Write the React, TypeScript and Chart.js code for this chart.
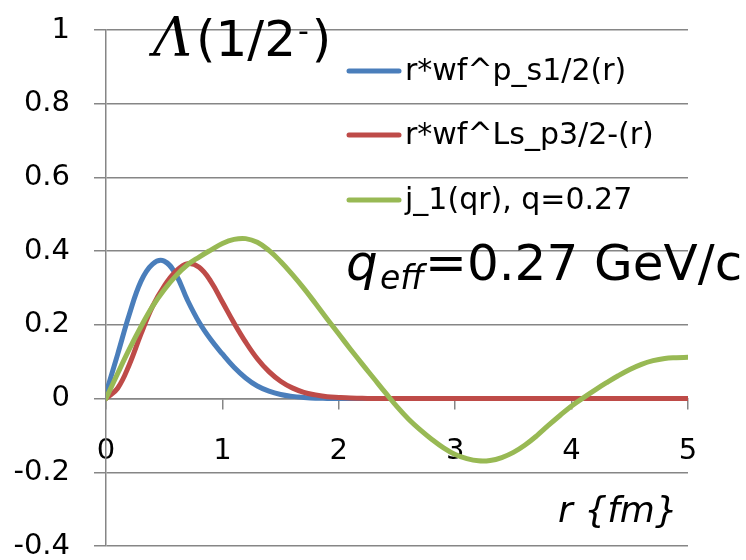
import React, { useEffect, useRef } from "react";
import { Chart, registerables } from "chart.js";

Chart.register(...registerables);

// radius r in fm
const rValues = [
  0, 0.1, 0.2, 0.3, 0.4, 0.5, 0.6, 0.7, 0.8, 0.9,
  1.0, 1.1, 1.2, 1.3, 1.4, 1.5, 1.6, 1.7, 1.8, 1.9,
  2.0, 2.1, 2.2, 2.3, 2.4, 2.5, 2.6, 2.7, 2.8, 2.9,
  3.0, 3.1, 3.2, 3.3, 3.4, 3.5, 3.6, 3.7, 3.8, 3.9,
  4.0, 4.1, 4.2, 4.3, 4.4, 4.5, 4.6, 4.7, 4.8, 4.9,
  5.0,
];

const wfS12 = [
  0.015, 0.12, 0.228, 0.318, 0.365, 0.373, 0.337, 0.267, 0.207, 0.16,
  0.121, 0.085, 0.056, 0.034, 0.02, 0.011, 0.006, 0.003, 0.001, 0.0005,
  0, 0, 0, 0, 0, 0, 0, 0, 0, 0,
  0, 0, 0, 0, 0, 0, 0, 0, 0, 0,
  0, 0, 0, 0, 0, 0, 0, 0, 0, 0,
  0,
];

const wfLsP32 = [
  0, 0.028, 0.092, 0.175, 0.25, 0.305, 0.345, 0.366, 0.356, 0.318,
  0.262, 0.205, 0.153, 0.108, 0.073, 0.047, 0.029, 0.017, 0.01, 0.005,
  0.003, 0.0015, 0.001, 0, 0, 0, 0, 0, 0, 0,
  0, 0, 0, 0, 0, 0, 0, 0, 0, 0,
  0, 0, 0, 0, 0, 0, 0, 0, 0, 0,
  0,
];

const j1qr = [
  0, 0.068, 0.134, 0.195, 0.25, 0.295, 0.333, 0.363, 0.384, 0.403,
  0.421, 0.432, 0.434, 0.424, 0.402, 0.372, 0.337, 0.299, 0.258, 0.216,
  0.175, 0.134, 0.094, 0.055, 0.016, -0.022, -0.056, -0.085, -0.111, -0.134,
  -0.152, -0.163, -0.169, -0.168, -0.16, -0.146, -0.126, -0.101, -0.073, -0.046,
  -0.02, 0.002, 0.023, 0.043, 0.062, 0.079, 0.093, 0.103, 0.109, 0.111,
  0.112,
];

const seriesLabels = ["r*wf^p_s1/2(r)", "r*wf^Ls_p3/2-(r)", "j_1(qr), q=0.27"];
const seriesColors = ["#4A7EBB", "#BE4B48", "#98B954"];
const yTickLabels = ["-0.4", "-0.2", "0", "0.2", "0.4", "0.6", "0.8", "1"];

const TITLE_SYMBOL = "Λ";
const TITLE_BODY = "(1/2";
const TITLE_SUP = "-";
const TITLE_END = ")";
const Q_MAIN = "q";
const Q_SUB = "eff";
const Q_VALUE = "=0.27 GeV/c";
const X_TITLE = "r {fm}";

const FONT = '"DejaVu Sans"';

const annotations = {
  id: "annotations",
  afterDraw(chart: any) {
    const ctx = chart.ctx;
    ctx.save();
    ctx.fillStyle = "#000";
    ctx.textAlign = "left";
    ctx.textBaseline = "alphabetic";

    // title
    ctx.font = 'italic 54px "DejaVu Serif"';
    ctx.fillText(TITLE_SYMBOL, 153, 56);
    ctx.font = `50px ${FONT}`;
    ctx.fillText(TITLE_BODY, 196, 56);
    const wBody = ctx.measureText(TITLE_BODY).width;
    ctx.font = `30px ${FONT}`;
    ctx.fillText(TITLE_SUP, 196 + wBody + 2, 41);
    const wSup = ctx.measureText(TITLE_SUP).width;
    ctx.font = `50px ${FONT}`;
    ctx.fillText(TITLE_END, 196 + wBody + wSup + 5, 56);

    // q_eff
    ctx.font = `italic 50px ${FONT}`;
    ctx.fillText(Q_MAIN, 346, 280);
    ctx.font = `italic 33px ${FONT}`;
    ctx.fillText(Q_SUB, 380, 289);
    ctx.font = `50px ${FONT}`;
    ctx.fillText(Q_VALUE, 425, 280);

    // axis title
    ctx.font = `italic 36px ${FONT}`;
    ctx.fillText(X_TITLE, 558, 522);

    // legend
    const legendY = [71, 135, 200];
    chart.data.datasets.forEach((ds: any, i: number) => {
      const y = legendY[i];
      ctx.strokeStyle = ds.borderColor;
      ctx.lineWidth = 5;
      ctx.lineCap = "round";
      ctx.beginPath();
      ctx.moveTo(349, y);
      ctx.lineTo(399, y);
      ctx.stroke();
      ctx.fillStyle = "#000";
      ctx.font = `30px ${FONT}`;
      ctx.textBaseline = "middle";
      ctx.fillText(ds.label, 405, y + 1);
    });
    ctx.restore();
  },
};

export default function App() {
  const ref = useRef<HTMLCanvasElement>(null);

  useEffect(() => {
    if (!ref.current) return;
    const mk = (vals: number[]) => rValues.map((r, i) => ({ x: r, y: vals[i] }));
    const allSeries = [wfS12, wfLsP32, j1qr];
    const orders = [3, 2, 1];
    const chart = new Chart(ref.current, {
      type: "line",
      data: {
        datasets: allSeries.map((vals, i) => ({
          label: seriesLabels[i],
          data: mk(vals),
          borderColor: seriesColors[i],
          backgroundColor: seriesColors[i],
          borderWidth: 5,
          pointRadius: 0,
          fill: false,
          tension: 0.4,
          borderCapStyle: "round" as const,
          borderJoinStyle: "round" as const,
          order: orders[i],
        })),
      },
      options: {
        animation: false,
        responsive: false,
        layout: { padding: { top: 30, right: 58, bottom: 14, left: 0 } },
        plugins: {
          legend: { display: false },
          tooltip: { enabled: false },
        },
        scales: {
          x: {
            type: "linear",
            min: 0,
            max: 5,
            position: { y: 0 } as any,
            ticks: {
              stepSize: 1,
              color: "#000",
              padding: 25,
              font: { family: "DejaVu Sans", size: 29 },
              callback: (v: any) => String(v),
            },
            grid: {
              drawOnChartArea: false,
              drawTicks: true,
              tickLength: 10,
              color: "#868686",
              lineWidth: 1.5,
            },
            border: { display: true, color: "#868686", width: 1.5 },
          },
          y: {
            type: "linear",
            min: -0.4,
            max: 1,
            ticks: {
              stepSize: 0.2,
              color: "#000",
              padding: 24,
              font: { family: "DejaVu Sans", size: 29 },
              callback: (_v: any, idx: number) => yTickLabels[idx],
            },
            grid: {
              color: "#868686",
              lineWidth: 1.5,
              drawTicks: true,
              tickLength: 12,
            },
            border: { display: true, color: "#868686", width: 1.5 },
            afterFit: (s: any) => {
              s.width = 106;
              s.paddingTop = 0;
              s.paddingBottom = 0;
            },
          },
        },
      },
      plugins: [annotations],
    });
    return () => chart.destroy();
  }, []);

  return (
    <div style={{ position: "absolute", left: 0, top: 0, width: 746, height: 560, background: "#fff" }}>
      <canvas ref={ref} width={746} height={560} style={{ display: "block" }} />
    </div>
  );
}
